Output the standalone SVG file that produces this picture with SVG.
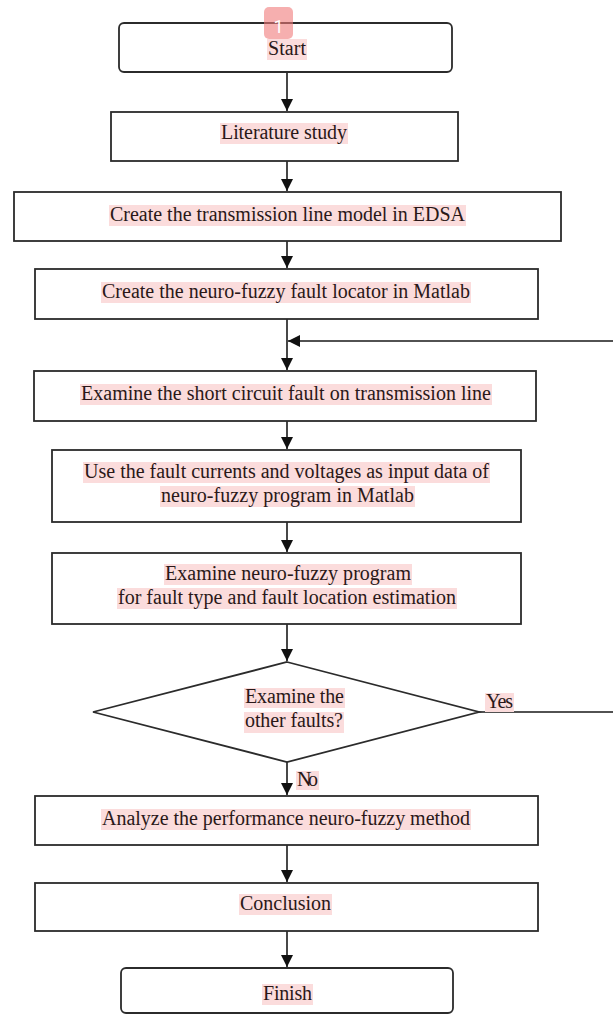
<svg xmlns="http://www.w3.org/2000/svg" width="613" height="1015" viewBox="0 0 613 1015">
<style>
.box{fill:#fff;stroke:#2b2b2b;stroke-width:1.8}
.hl{fill:#fbdcdc}
.t{font-family:"Liberation Serif","Times New Roman",serif;font-size:20px;fill:#2a1818;text-anchor:middle}
.c{fill:none;stroke:#1a1a1a;stroke-width:1.6}
</style>
<defs>
<marker id="ah" viewBox="0 0 12 12" markerWidth="12" markerHeight="12" refX="12" refY="6" orient="auto" markerUnits="userSpaceOnUse">
<path d="M0,0 L12,6 L0,12 z" fill="#111"/>
</marker>
</defs>
<rect width="613" height="1015" fill="#fff"/>
<g id="connectors">
<path class="c" d="M287,72 V111" marker-end="url(#ah)"/>
<path class="c" d="M287,161 V191" marker-end="url(#ah)"/>
<path class="c" d="M287,241 V268" marker-end="url(#ah)"/>
<path class="c" d="M287,319 V370" marker-end="url(#ah)"/>
<path class="c" d="M287,421 V449" marker-end="url(#ah)"/>
<path class="c" d="M287,522 V552" marker-end="url(#ah)"/>
<path class="c" d="M287,624 V661" marker-end="url(#ah)"/>
<path class="c" d="M287,762 V795" marker-end="url(#ah)"/>
<path class="c" d="M287,845 V882" marker-end="url(#ah)"/>
<path class="c" d="M287,931 V967" marker-end="url(#ah)"/>
<path class="c" d="M479,712 H650 V341 H288" marker-end="url(#ah)"/>
<rect class="hl" x="485" y="693" width="29" height="19"/>
<text class="t" x="499.5" y="708" textLength="27">Yes</text>
<rect class="hl" x="296" y="771" width="23" height="19"/>
<text class="t" x="307.5" y="786" textLength="21">No</text>
</g>
<g id="start">
<rect class="box" x="119" y="23" width="333" height="49" rx="5"/>
<rect class="hl" x="267" y="39" width="40" height="21"/>
<text class="t" x="287" y="55" textLength="38">Start</text>
</g>
<g id="literature">
<rect class="box" x="111" y="112" width="347" height="49"/>
<rect class="hl" x="220" y="123" width="128" height="21"/>
<text class="t" x="284" y="139" textLength="126">Literature study</text>
</g>
<g id="edsa">
<rect class="box" x="14" y="192" width="547" height="49"/>
<rect class="hl" x="109" y="205" width="357" height="21"/>
<text class="t" x="287.5" y="221" textLength="355">Create the transmission line model in EDSA</text>
</g>
<g id="locator">
<rect class="box" x="35" y="269" width="503" height="50"/>
<rect class="hl" x="101" y="282" width="370" height="21"/>
<text class="t" x="286" y="298" textLength="368">Create the neuro-fuzzy fault locator in Matlab</text>
</g>
<g id="examine-short">
<rect class="box" x="34" y="371" width="502" height="50"/>
<rect class="hl" x="80" y="384" width="412" height="21"/>
<text class="t" x="286" y="400" textLength="410">Examine the short circuit fault on transmission line</text>
</g>
<g id="use-data">
<rect class="box" x="52" y="450" width="469" height="72"/>
<rect class="hl" x="83" y="462" width="407" height="21"/>
<text class="t" x="286.5" y="478" textLength="405">Use the fault currents and voltages as input data of</text>
<rect class="hl" x="160" y="486" width="255" height="21"/>
<text class="t" x="287.5" y="502" textLength="253">neuro-fuzzy program in Matlab</text>
</g>
<g id="examine-program">
<rect class="box" x="52" y="553" width="469" height="71"/>
<rect class="hl" x="164" y="564" width="248" height="21"/>
<text class="t" x="288" y="580" textLength="246">Examine neuro-fuzzy program</text>
<rect class="hl" x="117" y="588" width="340" height="21"/>
<text class="t" x="287" y="604" textLength="338">for fault type and fault location estimation</text>
</g>
<g id="decision">
<polygon class="box" points="287,662 479,712 287,762 93,712"/>
<rect class="hl" x="244" y="688" width="101" height="20"/>
<text class="t" x="294.5" y="703" textLength="99">Examine the</text>
<rect class="hl" x="244" y="712" width="100" height="21"/>
<text class="t" x="294" y="727" textLength="98">other faults?</text>
</g>
<g id="analyze">
<rect class="box" x="35" y="796" width="503" height="49"/>
<rect class="hl" x="101" y="809" width="370" height="21"/>
<text class="t" x="286" y="825" textLength="368">Analyze the performance neuro-fuzzy method</text>
</g>
<g id="conclusion">
<rect class="box" x="35" y="883" width="503" height="48"/>
<rect class="hl" x="239" y="894" width="93" height="21"/>
<text class="t" x="285.5" y="910" textLength="91">Conclusion</text>
</g>
<g id="finish">
<rect class="box" x="121" y="968" width="332" height="45" rx="5"/>
<rect class="hl" x="262" y="984" width="51" height="21"/>
<text class="t" x="287.5" y="1000" textLength="49">Finish</text>
</g>
<g id="badge">
<rect x="264" y="7" width="29" height="32" rx="5" fill="#f07a7a" fill-opacity="0.6"/>
<text x="278.5" y="33" font-family="Roboto,'Liberation Sans',sans-serif" font-size="18" fill="#fff" text-anchor="middle">1</text>
</g>
</svg>
